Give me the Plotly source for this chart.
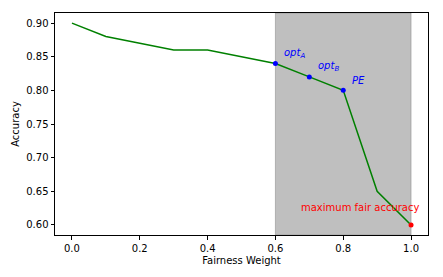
import plotly.graph_objects as go

weights = [0.0, 0.1, 0.2, 0.3, 0.4, 0.5, 0.6, 0.7, 0.8, 0.9, 1.0]
accuracy = [0.90, 0.88, 0.87, 0.86, 0.86, 0.85, 0.84, 0.82, 0.80, 0.65, 0.60]

opt_x = [0.6, 0.7, 0.8]
opt_y = [0.84, 0.82, 0.80]
opt_labels = ["<i>opt</i><sub><i>A</i></sub>", "<i>opt</i><sub><i>B</i></sub>", "<i>PE</i>"]

max_x = [1.0]
max_y = [0.60]
max_label = "maximum fair accuracy"

shade_range = [0.6, 1.0]

x_ticks = [0.0, 0.2, 0.4, 0.6, 0.8, 1.0]
y_ticks = [0.60, 0.65, 0.70, 0.75, 0.80, 0.85, 0.90]

font = dict(family="DejaVu Sans", size=10, color="black")

fig = go.Figure()
fig.add_shape(type="rect", xref="x", yref="paper", x0=shade_range[0], x1=shade_range[1],
              y0=0, y1=1, fillcolor="rgba(128,128,128,0.5)", line=dict(width=0.8, color="rgba(128,128,128,0.6)"),
              layer="below")
fig.add_trace(go.Scatter(x=weights, y=accuracy, mode="lines",
                         line=dict(color="#008000", width=1.5), showlegend=False))
fig.add_trace(go.Scatter(x=opt_x, y=opt_y, mode="markers",
                         marker=dict(color="blue", size=5), showlegend=False))
fig.add_trace(go.Scatter(x=max_x, y=max_y, mode="markers",
                         marker=dict(color="red", size=5), showlegend=False))

for x, y, t in zip(opt_x, opt_y, opt_labels):
    fig.add_annotation(x=x + 0.02, y=y + 0.015, text=t, showarrow=False, xanchor="left",
                       yanchor="middle", font=dict(family="DejaVu Sans", size=10, color="blue"))
fig.add_annotation(x=max_x[0] - 0.15, y=max_y[0] + 0.026, text=max_label, showarrow=False,
                   xanchor="center", yanchor="middle",
                   font=dict(family="DejaVu Sans", size=10, color="red"))

axis_common = dict(showline=True, linecolor="black", linewidth=1, mirror=True,
                   ticks="outside", ticklen=3.5, tickcolor="black", showgrid=False,
                   zeroline=False, tickfont=font)
fig.update_xaxes(range=[-0.05, 1.05], tickvals=x_ticks, tickformat=".1f",
                 title=dict(text="Fairness Weight", font=font, standoff=4), **axis_common)
fig.update_yaxes(range=[0.585, 0.915], tickvals=y_ticks, tickformat=".2f",
                 title=dict(text="Accuracy", font=font, standoff=4), **axis_common)

fig.update_layout(width=443, height=277, margin=dict(l=55, r=15, t=13, b=40),
                  plot_bgcolor="white", paper_bgcolor="white", font=font)

fig.write_html("out.html", config={"displayModeBar": False},
               post_script="document.body.style.margin='0px';")
